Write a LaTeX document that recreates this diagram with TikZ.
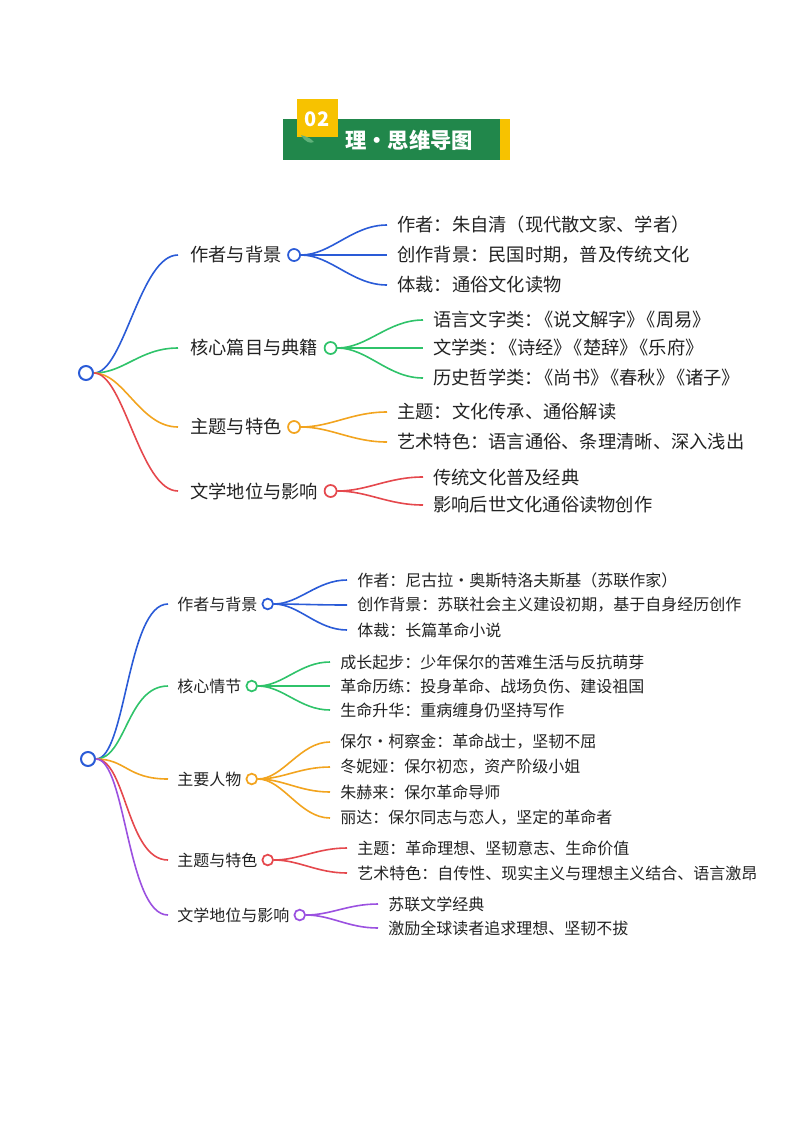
\documentclass[tikz,border=0pt]{standalone}
\usepackage{fontspec}
\setmainfont{Noto Sans CJK SC}
\usetikzlibrary{positioning}
\newcommand{\sq}{\kern-.4em}
\definecolor{cblue}{HTML}{2A5BD7}
\definecolor{cgreen}{HTML}{2FC36A}
\definecolor{corange}{HTML}{F2A41F}
\definecolor{cred}{HTML}{E5484D}
\definecolor{cpurple}{HTML}{9B51E0}
\definecolor{hgreen}{HTML}{21874B}
\definecolor{hyellow}{HTML}{F7C200}
\definecolor{hleaf}{HTML}{5FB27A}
\definecolor{ink}{HTML}{222222}
\tikzset{
  dot/.style={circle,draw=#1,fill=white,line width=1.3pt,minimum size=9pt,inner sep=0pt},
  rootdot/.style={dot=#1,minimum size=10.5pt,line width=1.5pt},
  lone/.style={anchor=west,inner sep=0pt,text=ink},
  ltwo/.style={anchor=west,inner sep=0pt,text=ink},
  link/.style={draw=#1,line width=1.2pt,shorten >=7.5pt},
}
\begin{document}
\begin{tikzpicture}[x=0.75pt,y=-0.75pt,font=\fontsize{13.7}{16}\selectfont]
  \useasboundingbox (0,0) rectangle (800,1132);
  % header
  \fill[hgreen] (283,119) rectangle (500,160);
  \fill[hyellow] (500,119) rectangle (510,160);
  \fill[hyellow] (297,99) rectangle (338,137);
  \fill[hleaf] (301,135) .. controls (305,142) and (310,144) .. (314,142) .. controls (310,138) .. (301,135) -- cycle;
  \node[text=white,font=\bfseries\fontsize{15}{15}\selectfont] (num) at (317,119) {02};
  \node[text=white,font=\bfseries\fontsize{16}{16}\selectfont] (title) at (409,140) {理・思维导图};

  % first map
  \node[rootdot=cblue] (ra) at (86,373) {};
  \node[lone] (a1) at (190,255) {作者与背景};
  \node[dot=cblue,right=4pt of a1] (a1o) {};
  \node[lone] (a2) at (190,348) {核心篇目与典籍};
  \node[dot=cgreen,right=4pt of a2] (a2o) {};
  \node[lone] (a3) at (190,427) {主题与特色};
  \node[dot=corange,right=4pt of a3] (a3o) {};
  \node[lone] (a4) at (190,491) {文学地位与影响};
  \node[dot=cred,right=4pt of a4] (a4o) {};

  \node[ltwo] (a11) at (397,225) {作者：朱自清（现代散文家、学者）};
  \node[ltwo] (a12) at (397,255) {创作背景：民国时期，普及传统文化};
  \node[ltwo] (a13) at (397,285) {体裁：通俗文化读物};
  \node[ltwo] (a21) at (433,320) {语言文字类：\sq《说文解字》\sq《周易》};
  \node[ltwo] (a22) at (433,348) {文学类：\sq《诗经》\sq《楚辞》\sq《乐府》};
  \node[ltwo] (a23) at (433,378) {历史哲学类：\sq《尚书》\sq《春秋》\sq《诸子》};
  \node[ltwo] (a31) at (397,412) {主题：文化传承、通俗解读};
  \node[ltwo] (a32) at (397,442) {艺术特色：语言通俗、条理清晰、深入浅出};
  \node[ltwo] (a41) at (433,477) {传统文化普及经典};
  \node[ltwo] (a42) at (433,505) {影响后世文化通俗读物创作};

  \foreach \i/\c in {1/cblue,2/cgreen,3/corange,4/cred}
    \draw[link=\c,shorten >=9pt] (ra.east) .. controls +(30,0) and +(-50,0) .. (a\i.west);
  \foreach \k in {1,2,3}
    \draw[link=cblue] (a1o.east) .. controls +(30,0) and +(-45,0) .. (a1\k.west);
  \foreach \k in {1,2,3}
    \draw[link=cgreen] (a2o.east) .. controls +(30,0) and +(-45,0) .. (a2\k.west);
  \foreach \k in {1,2}
    \draw[link=corange] (a3o.east) .. controls +(30,0) and +(-45,0) .. (a3\k.west);
  \foreach \k in {1,2}
    \draw[link=cred] (a4o.east) .. controls +(30,0) and +(-45,0) .. (a4\k.west);

  % second map
  \begin{scope}[font=\fontsize{12}{14}\selectfont,dot/.append style={minimum size=8pt}]
  \node[rootdot=cblue] (rb) at (88,759) {};
  \node[lone] (b1) at (177,604) {作者与背景};
  \node[dot=cblue,right=3pt of b1] (b1o) {};
  \node[lone] (b2) at (177,686) {核心情节};
  \node[dot=cgreen,right=3pt of b2] (b2o) {};
  \node[lone] (b3) at (177,779) {主要人物};
  \node[dot=corange,right=3pt of b3] (b3o) {};
  \node[lone] (b4) at (177,860) {主题与特色};
  \node[dot=cred,right=3pt of b4] (b4o) {};
  \node[lone] (b5) at (177,915) {文学地位与影响};
  \node[dot=cpurple,right=3pt of b5] (b5o) {};

  \node[ltwo] (b11) at (357,580) {作者：尼古拉・奥斯特洛夫斯基（苏联作家）};
  \node[ltwo] (b12) at (357,605) {创作背景：苏联社会主义建设初期，基于自身经历创作};
  \node[ltwo] (b13) at (357,630) {体裁：长篇革命小说};
  \node[ltwo] (b21) at (340,662) {成长起步：少年保尔的苦难生活与反抗萌芽};
  \node[ltwo] (b22) at (340,686) {革命历练：投身革命、战场负伤、建设祖国};
  \node[ltwo] (b23) at (340,710) {生命升华：重病缠身仍坚持写作};
  \node[ltwo] (b31) at (340,742) {保尔・柯察金：革命战士，坚韧不屈};
  \node[ltwo] (b32) at (340,767) {冬妮娅：保尔初恋，资产阶级小姐};
  \node[ltwo] (b33) at (340,792) {朱赫来：保尔革命导师};
  \node[ltwo] (b34) at (340,818) {丽达：保尔同志与恋人，坚定的革命者};
  \node[ltwo] (b41) at (357,848) {主题：革命理想、坚韧意志、生命价值};
  \node[ltwo] (b42) at (357,873) {艺术特色：自传性、现实主义与理想主义结合、语言激昂};
  \node[ltwo] (b51) at (388,904) {苏联文学经典};
  \node[ltwo] (b52) at (388,928) {激励全球读者追求理想、坚韧不拔};

  \foreach \i/\c in {1/cblue,2/cgreen,3/corange,4/cred,5/cpurple}
    \draw[link=\c,shorten >=6.75pt] (rb.east) .. controls +(30,0) and +(-50,0) .. (b\i.west);
  \foreach \k in {1,2,3}
    \draw[link=cblue] (b1o.east) .. controls +(25,0) and +(-40,0) .. (b1\k.west);
  \foreach \k in {1,2,3}
    \draw[link=cgreen] (b2o.east) .. controls +(25,0) and +(-40,0) .. (b2\k.west);
  \foreach \k in {1,2,3,4}
    \draw[link=corange] (b3o.east) .. controls +(25,0) and +(-40,0) .. (b3\k.west);
  \foreach \k in {1,2}
    \draw[link=cred] (b4o.east) .. controls +(25,0) and +(-40,0) .. (b4\k.west);
  \foreach \k in {1,2}
    \draw[link=cpurple] (b5o.east) .. controls +(25,0) and +(-40,0) .. (b5\k.west);
  \end{scope}
\end{tikzpicture}
\end{document}
